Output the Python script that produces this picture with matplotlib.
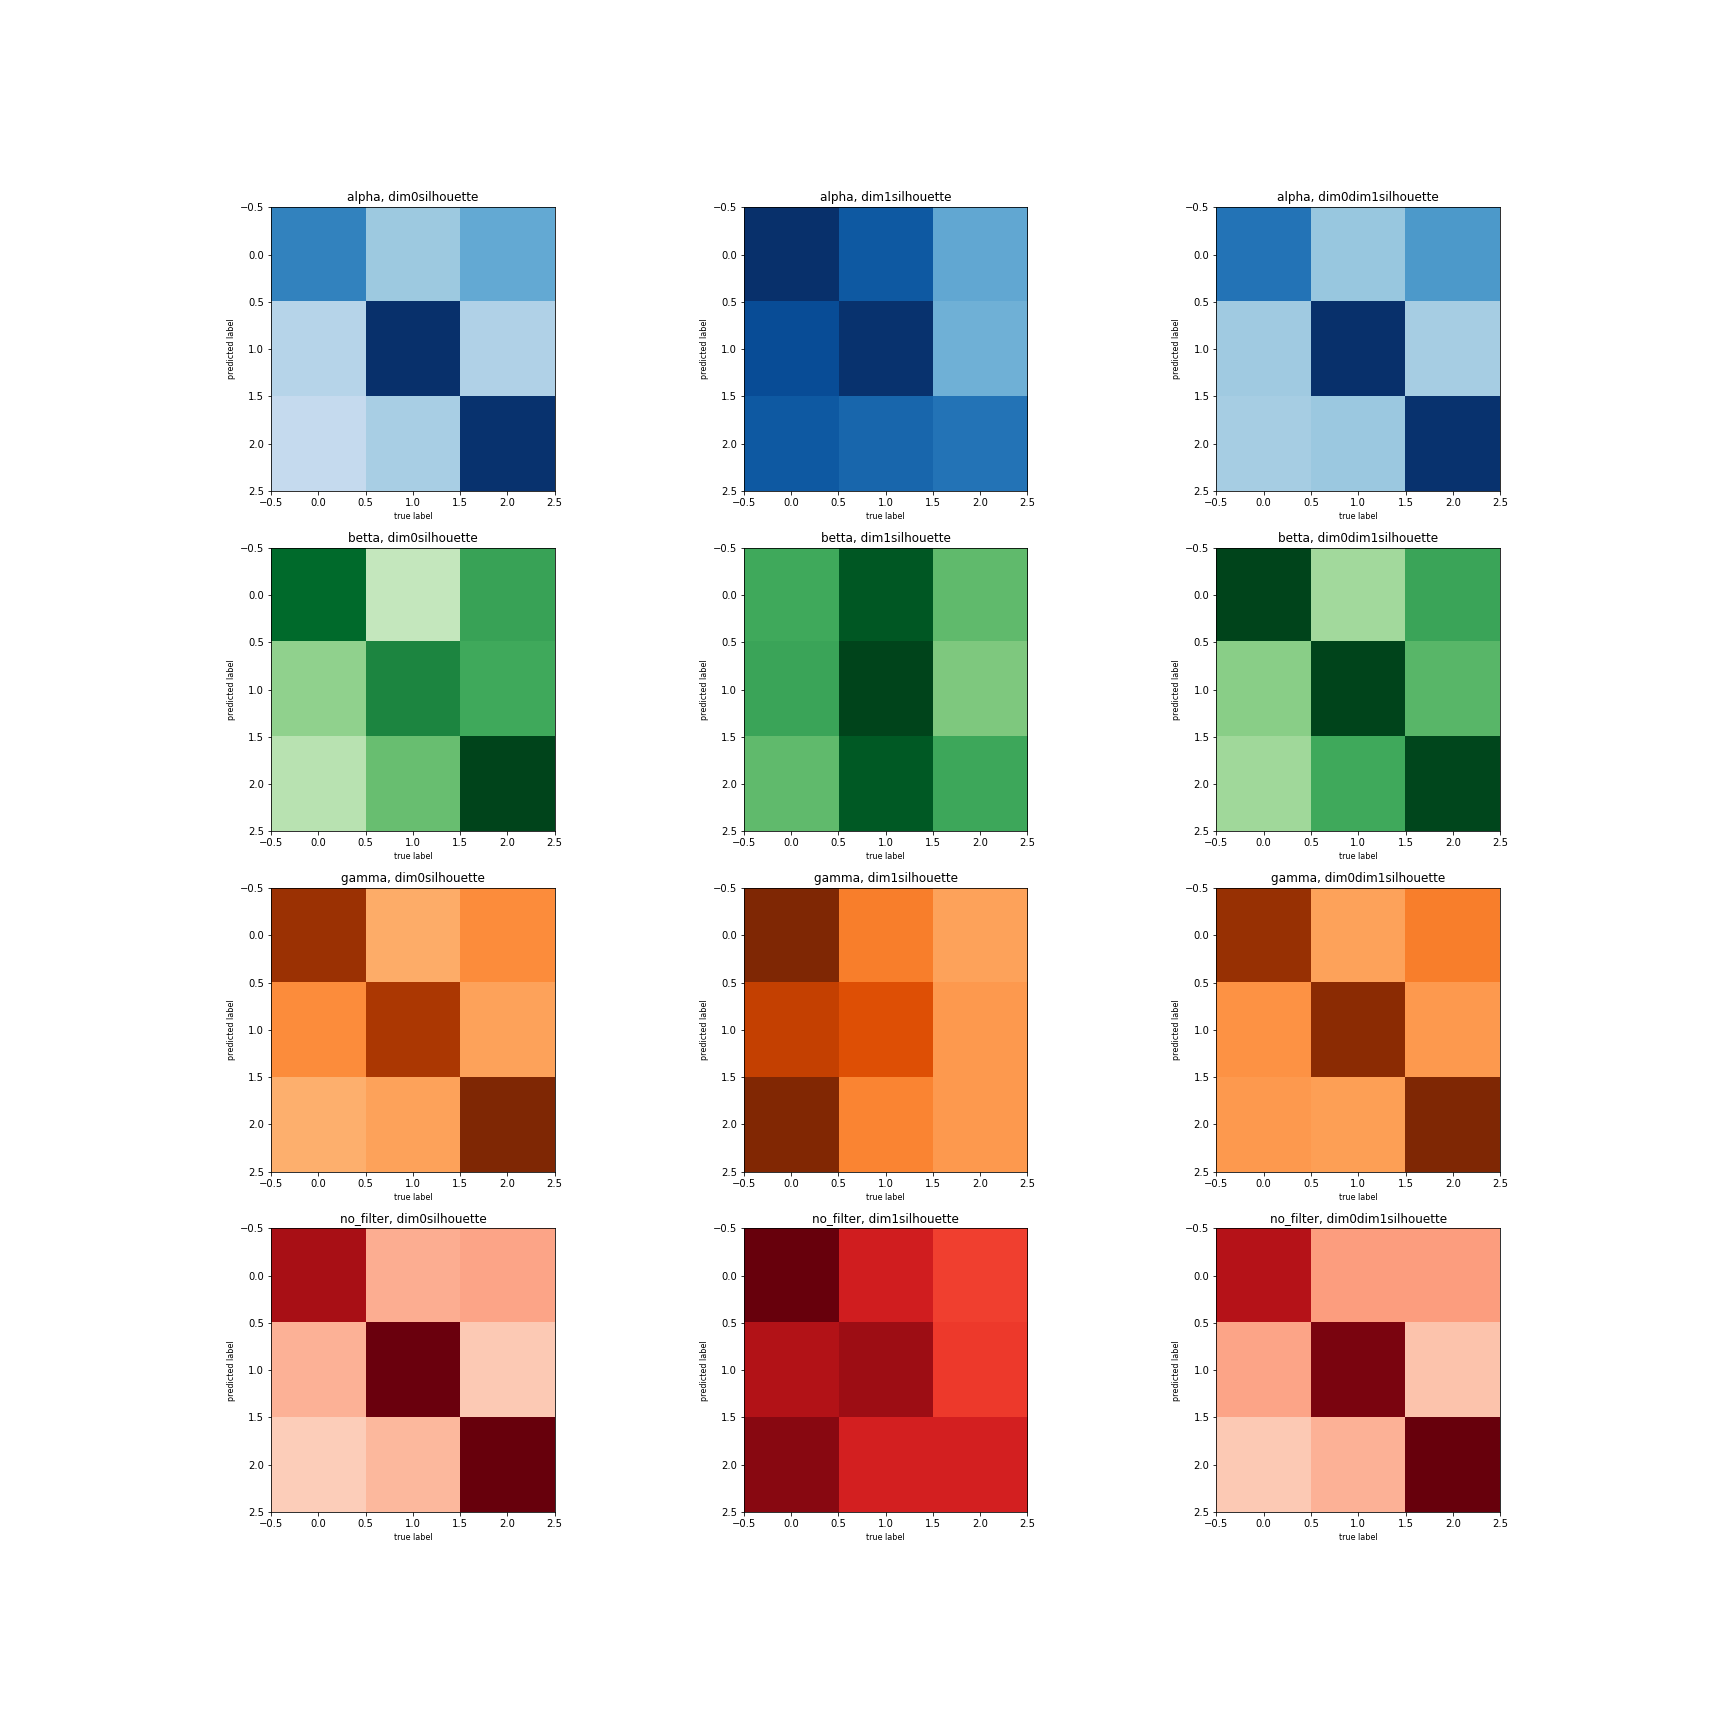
import numpy as np
import matplotlib
matplotlib.use("Agg")
import matplotlib.pyplot as plt

filters = ["alpha", "betta", "gamma", "no_filter"]
methods = ["dim0silhouette", "dim1silhouette", "dim0dim1silhouette"]
cmaps = ["Blues", "Greens", "Oranges", "Reds"]

alpha_dim0 = [[0.68, 0.375, 0.52], [0.30, 1.00, 0.32], [0.25, 0.34, 0.99]]
alpha_dim1 = [[1.00, 0.84, 0.53], [0.89, 0.99, 0.49], [0.84, 0.79, 0.74]]
alpha_dim0dim1 = [[0.74, 0.39, 0.59], [0.37, 1.00, 0.35], [0.35, 0.38, 0.99]]

betta_dim0 = [[0.88, 0.26, 0.66], [0.42, 0.77, 0.63], [0.30, 0.53, 1.00]]
betta_dim1 = [[0.63, 0.94, 0.55], [0.65, 1.00, 0.47], [0.55, 0.93, 0.64]]
betta_dim0dim1 = [[1.00, 0.37, 0.65], [0.44, 1.00, 0.57], [0.375, 0.63, 0.99]]

gamma_dim0 = [[0.91, 0.38, 0.50], [0.50, 0.86, 0.42], [0.37, 0.42, 1.00]]
gamma_dim1 = [[1.00, 0.55, 0.42], [0.80, 0.72, 0.45], [0.99, 0.53, 0.45]]
gamma_dim0dim1 = [[0.92, 0.42, 0.55], [0.48, 0.96, 0.45], [0.45, 0.43, 1.00]]

nofilter_dim0 = [[0.86, 0.29, 0.32], [0.28, 0.99, 0.20], [0.19, 0.26, 1.00]]
nofilter_dim1 = [[1.00, 0.73, 0.61], [0.83, 0.89, 0.63], [0.93, 0.72, 0.72]]
nofilter_dim0dim1 = [[0.82, 0.34, 0.34], [0.32, 0.96, 0.22], [0.20, 0.28, 1.00]]

matrices = [
    [alpha_dim0, alpha_dim1, alpha_dim0dim1],
    [betta_dim0, betta_dim1, betta_dim0dim1],
    [gamma_dim0, gamma_dim1, gamma_dim0dim1],
    [nofilter_dim0, nofilter_dim1, nofilter_dim0dim1],
]

fig, axes = plt.subplots(4, 3, figsize=(24, 24), dpi=72)
fig.subplots_adjust(left=0.125, right=0.9, top=0.88, bottom=0.125,
                    wspace=0.2, hspace=0.2)
for i, f in enumerate(filters):
    for j, m in enumerate(methods):
        ax = axes[i, j]
        ax.imshow(np.array(matrices[i][j]), cmap=cmaps[i], vmin=0, vmax=1,
                  interpolation="nearest")
        ax.set_title(f"{f}, {m}", fontsize=12)
        ax.set_xlabel("true label", fontsize=8)
        ax.set_ylabel("predicted label", fontsize=8)
        ax.tick_params(labelsize=10)

fig.savefig("out.png", dpi=72)
